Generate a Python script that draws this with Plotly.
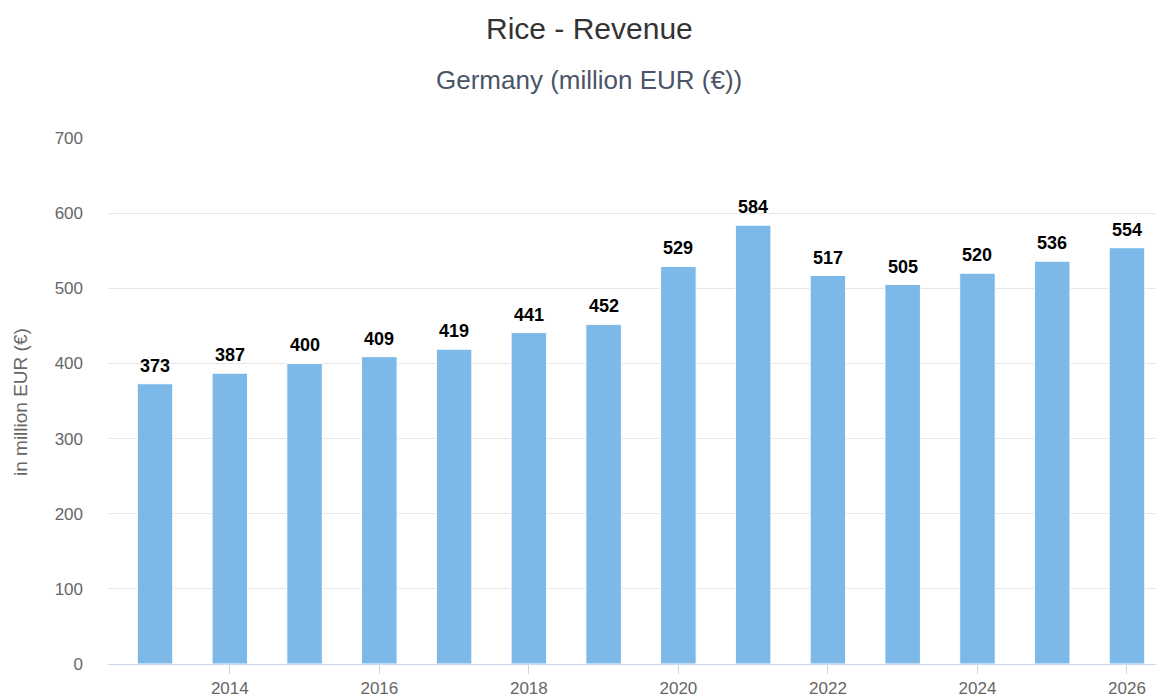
import plotly.graph_objects as go

years = [2013, 2014, 2015, 2016, 2017, 2018, 2019, 2020, 2021, 2022, 2023, 2024, 2025, 2026]
revenue = [373, 387, 400, 409, 419, 441, 452, 529, 584, 517, 505, 520, 536, 554]
y_ticks = [0, 100, 200, 300, 400, 500, 600, 700]
x_ticks = [2014, 2016, 2018, 2020, 2022, 2024, 2026]

FONT = "Liberation Sans, Arial, Helvetica, sans-serif"

# The page body has an 8px default margin, so the figure is sized/positioned accordingly.
W, H = 1156, 689
ML, MR, MT, MB = 100, 0, 130, 33
PW, PH = W - ML - MR, H - MT - MB


def px_x(x):
    return (x - ML) / PW


def px_y(y):
    return (H - MB - y) / PH


fig = go.Figure()
fig.add_trace(go.Bar(
    x=years,
    y=revenue,
    width=0.475,
    marker=dict(color="#7cb9e8", line=dict(color="#ffffff", width=1)),
    hoverinfo="x+y",
))

annotations = [
    dict(x=yr, y=v, xref="x", yref="y", text=f"<b>{v}</b>", showarrow=False,
         yanchor="bottom", xanchor="center", yshift=6,
         font=dict(family=FONT, size=18, color="#000000"))
    for yr, v in zip(years, revenue)
]
annotations += [
    dict(text="Rice - Revenue", x=px_x(581), y=px_y(20), xref="paper", yref="paper",
         xanchor="center", yanchor="middle", showarrow=False,
         font=dict(family=FONT, size=30, color="#333333")),
    dict(text="Germany (million EUR (€))", x=px_x(581), y=px_y(72), xref="paper", yref="paper",
         xanchor="center", yanchor="middle", showarrow=False,
         font=dict(family=FONT, size=26, color="#4a5568")),
    dict(text="in million EUR (€)", x=px_x(12), y=px_y(394), xref="paper", yref="paper",
         xanchor="center", yanchor="middle", showarrow=False, textangle=-90,
         font=dict(family=FONT, size=19, color="#666666")),
]

fig.update_layout(
    width=W,
    height=H,
    margin=dict(l=ML, r=MR, t=MT, b=MB, autoexpand=False),
    paper_bgcolor="#ffffff",
    plot_bgcolor="#ffffff",
    showlegend=False,
    font=dict(family=FONT),
    xaxis=dict(
        range=[2012.371, 2026.495],
        tickmode="array",
        tickvals=x_ticks,
        ticktext=[str(t) for t in x_ticks],
        showgrid=False,
        showline=True,
        linecolor="#ccd6eb",
        linewidth=1,
        ticks="outside",
        tickcolor="#ccd6eb",
        ticklen=9,
        tickfont=dict(family=FONT, size=17, color="#666666"),
        zeroline=False,
        fixedrange=True,
    ),
    yaxis=dict(
        range=[0, 700],
        tickmode="array",
        tickvals=y_ticks,
        ticktext=[str(t) for t in y_ticks],
        showgrid=True,
        gridcolor="#e6e6e6",
        gridwidth=1,
        zeroline=False,
        showline=False,
        ticks="",
        ticklabelstandoff=24,
        tickfont=dict(family=FONT, size=17, color="#666666"),
        fixedrange=True,
    ),
    annotations=annotations,
)

fig.write_html("out.html")
